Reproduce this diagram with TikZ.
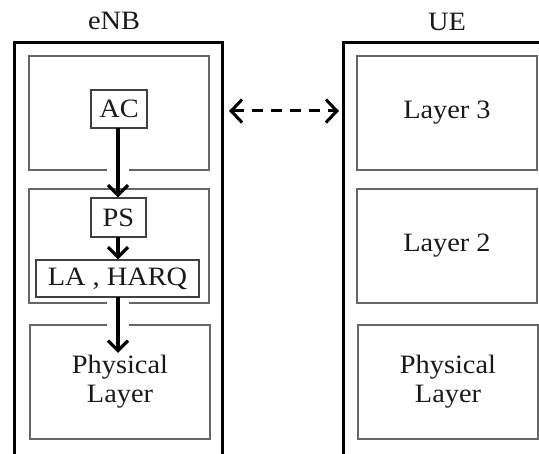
\documentclass[tikz,border=0pt]{standalone}
\usepackage{fontspec}
\setmainfont{Liberation Serif}[FakeStretch=1.07]
\usetikzlibrary{arrows.meta}
\begin{document}
\begin{tikzpicture}[x=1pt,y=-1pt,
  txt/.style={font=\fontsize{26.5}{29}\selectfont, text=black!90},
  outer/.style={line width=3pt, line join=miter},
  layerbox/.style={draw=black!60, line width=1.4pt, inner sep=0pt, align=center, txt,
                   minimum width=180pt, minimum height=114pt},
  smallbox/.style={draw=black!75, line width=1.4pt, inner sep=0pt, align=center, txt},
  flow/.style={line width=3.4pt, -{Straight Barb[length=10pt,width=20pt,line width=3.2pt]}},
  link/.style={line width=3pt, dash pattern=on 11pt off 8pt,
               {Straight Barb[length=11pt,width=23pt,line width=3pt]}-{Straight Barb[length=11pt,width=23pt,line width=3pt]}},
  gap/.style={draw=white, line width=3pt}
]
\useasboundingbox (0,0) rectangle (539,454);

% labels
\node[txt] (enb) at (114,21) {eNB};
\node[txt] (ue) at (447,22) {UE};

% outer containers (open at bottom / right)
\coordinate (eBL) at (14,456);
\coordinate (eTL) at (14,43);
\coordinate (eTR) at (222,43);
\coordinate (eBR) at (222,456);
\draw[outer] (eBL) -- (eTL) -- (eTR) -- (eBR);
\coordinate (uBL) at (343,456);
\coordinate (uTL) at (343,43);
\coordinate (uTR) at (541,43);
\draw[outer] (uBL) -- (uTL) -- (uTR);

% eNB layers
\node[layerbox] (e1) at (119,113) {};
\node[layerbox] (e2) at (119,246) {};
\node[layerbox] (e3) at (120,382) {Physical\\Layer};

% UE layers
\node[layerbox] (u1) at (447,113) {Layer 3};
\node[layerbox] (u2) at (447,246) {Layer 2};
\node[layerbox] (u3) at (448,382) {Physical\\Layer};

% inner blocks
\node[smallbox, minimum width=56pt, minimum height=38pt] (ac) at (119,109) {AC};
\node[smallbox, minimum width=55pt, minimum height=39pt] (ps) at (118.5,217.5) {PS};
\node[smallbox, minimum width=163pt, minimum height=37pt] (la) at (117.5,278.5) {LA , HARQ};

% gaps in the layer borders where the arrows pass
\draw[gap] (107,170) -- (129,170);
\draw[gap] (107,303) -- (129,303);
\draw[gap] (107,325) -- (129,325);

% arrows
\coordinate (phtip) at (118,353);
\draw[flow] (118,128) coordinate (acs) -- (acs |- ps.north);
\draw[flow] (118,237) coordinate (pss) -- (pss |- la.north);
\draw[flow] (118,297) coordinate (las) -- (phtip);

% peer link between the two stacks
\coordinate (lkL) at (229,111);
\coordinate (lkR) at (339,111);
\draw[link] (lkL) -- (lkR);
\end{tikzpicture}
\end{document}
